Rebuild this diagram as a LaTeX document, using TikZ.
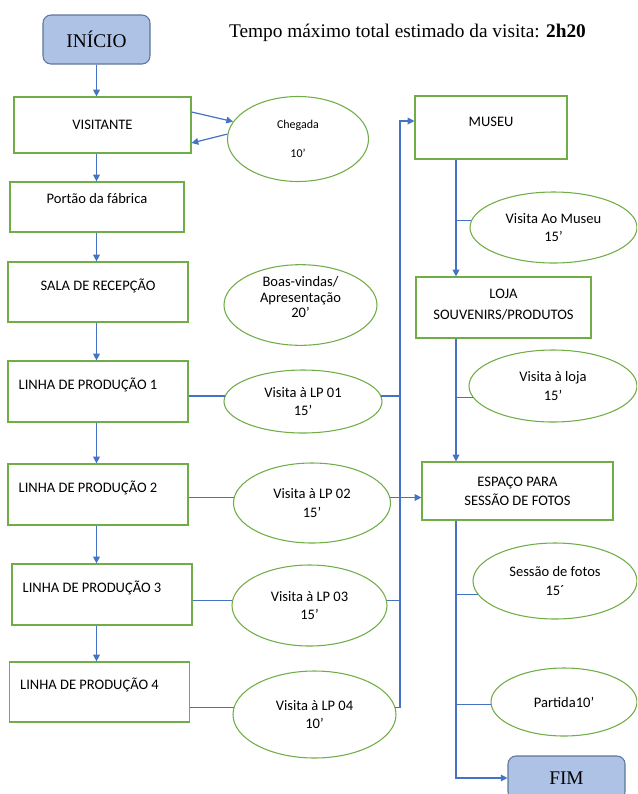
\documentclass[tikz,border=0pt]{standalone}
\usepackage{fontspec}
\setmainfont{Carlito}
\newfontfamily\timesfont{Liberation Serif}
\usetikzlibrary{shapes.geometric,arrows.meta}
\definecolor{flowblue}{HTML}{4472C4}
\definecolor{boxgreen}{HTML}{70AD47}
\definecolor{termfill}{HTML}{ADC2E5}
\definecolor{termedge}{HTML}{5E7699}
\newcommand{\lptext}[1]{\makebox[119pt][l]{#1}}
\begin{document}
\begin{tikzpicture}[x=0.75pt,y=-0.75pt,>={Triangle[width=5pt,length=5pt]}]
	\tikzstyle{procbox}=[draw=boxgreen,line width=0.9pt,rectangle,inner sep=0pt,font=\fontsize{10.9}{13}\selectfont];
	\tikzstyle{lpbox}=[procbox,minimum width=135pt,minimum height=45.75pt,text depth=12pt];
	\tikzstyle{visit}=[draw=boxgreen,line width=0.8pt,ellipse,inner sep=0pt,align=center,font=\fontsize{10.9}{14}\selectfont];
	\tikzstyle{term}=[draw=termedge,fill=termfill,line width=0.8pt,rounded corners=6pt,font=\timesfont\fontsize{14.5}{17}\selectfont];
	\tikzstyle{flow}=[draw=flowblue,line width=0.9pt];

	\clip (0,0) rectangle (637,794);

	\node at (96.5,39.5) (ini) [term,minimum width=80.25pt,minimum height=36.75pt] {INÍCIO};
	\node at (407.5,37) (title) [anchor=base,font=\timesfont\fontsize{14.5}{17}\selectfont] {Tempo máximo total estimado da visita: \textbf{2h20}};

	% left column
	\node at (102.5,125) (vis) [procbox,minimum width=132.75pt,minimum height=42pt] {VISITANTE};
	\node at (97,207) (port) [procbox,minimum width=130.5pt,minimum height=37.5pt,text depth=13pt] {Portão da fábrica};
	\node at (98,292) (sala) [procbox,minimum width=135pt,minimum height=45pt,text depth=11pt] {SALA DE RECEPÇÃO};
	\node at (98,391.5) (lp1) [lpbox] {\lptext{LINHA DE PRODUÇÃO 1}};
	\node at (98,494.5) (lp2) [lpbox] {\lptext{LINHA DE PRODUÇÃO 2}};
	\node at (102,594.5) (lp3) [lpbox] {\lptext{LINHA DE PRODUÇÃO 3}};
	\node at (99.5,692) (lp4) [lpbox,minimum height=45pt] {\lptext{LINHA DE PRODUÇÃO 4}};

	% visits
	\node at (298,139) (cheg) [visit,minimum width=105.75pt,minimum height=63.75pt,font=\fontsize{9}{11}\selectfont] {Chegada\\[10.5pt]10’};
	\node at (300.5,305) (boas) [visit,minimum width=114.75pt,minimum height=60pt,font=\fontsize{10.9}{11.6}\selectfont,text depth=12pt] {Boas-vindas/\\Apresentação\\20’};
	\node at (303,401.5) (e1) [visit,minimum width=118.5pt,minimum height=47.25pt] {Visita à LP 01\\15’};
	\node at (312,503) (e2) [visit,minimum width=117.75pt,minimum height=60pt] {Visita à LP 02\\15’};
	\node at (309.5,605.5) (e3) [visit,minimum width=116.25pt,minimum height=60.75pt] {Visita à LP 03\\15’};
	\node at (314.5,714.5) (e4) [visit,minimum width=122.25pt,minimum height=65.25pt] {Visita à LP 04\\10’};

	% right column
	\node at (491,127.5) (mus) [procbox,minimum width=114pt,minimum height=47.25pt,text depth=9pt] {MUSEU};
	\node at (503.5,307.5) (loja) [procbox,minimum width=131.25pt,minimum height=45.75pt,align=center,text depth=5pt] {LOJA\\[3pt]SOUVENIRS/PRODUTOS};
	\node at (517.5,491) (esp) [procbox,minimum width=143.25pt,minimum height=43.5pt,align=center] {ESPAÇO PARA\\[1pt]SESSÃO DE FOTOS};
	\node at (566.5,778) (fim) [term,minimum width=87.75pt,minimum height=33pt] {FIM};
	\node at (553.5,227.5) (e5) [visit,minimum width=125.25pt,minimum height=53.25pt] {Visita Ao Museu\\15’};
	\node at (553,386) (e6) [visit,minimum width=126pt,minimum height=54pt] {Visita à loja\\15’};
	\node at (555,581) (e7) [visit,minimum width=123pt,minimum height=57pt] {Sessão de fotos\\15´};
	\node at (564,702) (e8) [visit,minimum width=109.5pt,minimum height=51pt] {Partida10’};

	% arrival
	\draw[flow,->] ([yshift=9.75pt]vis.east) -- (cheg.165);
	\draw[flow,->] (cheg.176) -- ([yshift=-13.5pt]vis.east);

	\foreach \a/\b in {ini/vis,vis/port,port/sala,sala/lp1,lp1/lp2,lp2/lp3,lp3/lp4}
		\draw[flow,->] (ini.south |- \a.south) -- (ini.south |- \b.north);

	% production lines to the bus
	\coordinate (bus) at (400,121);
	\draw[flow,->] (e4.5) -| (bus) -- (bus -| mus.west);
	\draw[flow] (lp1.east |- e1.176) -- (e1.176);
	\draw[flow] (e1.4) -- (e1.4 -| bus);
	\draw[flow] (lp2.east |- e2.176) -- (e2.176);
	\draw[flow,->] (e2.4) -- (e2.4 -| esp.west);
	\draw[flow] (lp3.east |- e3.176) -- (e3.176);
	\draw[flow] (e3.4) -- (e3.4 -| bus);
	\draw[flow] (lp4.east |- e4.175) -- (e4.175);

	% museum side
	\coordinate (spine) at (456,0);
	\draw[flow,->] (spine |- mus.south) -- (spine |- loja.north);
	\draw[flow,->] (spine |- loja.south) -- (spine |- esp.north);
	\draw[flow,->] (spine |- esp.south) |- (fim.west);
	\foreach \e/\a in {e5/175,e6/188,e7/190,e8/182}
		\draw[flow] (spine |- \e.\a) -- (\e.\a);
\end{tikzpicture}
\end{document}
